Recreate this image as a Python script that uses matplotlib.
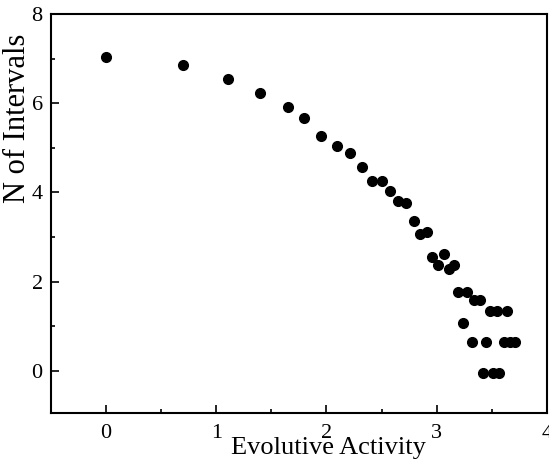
import matplotlib
matplotlib.use("Agg")
import matplotlib.pyplot as plt
from matplotlib.ticker import MultipleLocator

# datos
activity = [0.00, 0.70, 1.11, 1.40, 1.65, 1.80, 1.95, 2.10, 2.21, 2.32,
            2.41, 2.50, 2.58, 2.65, 2.72, 2.79, 2.85, 2.91, 2.96, 3.01,
            3.07, 3.11, 3.16, 3.19, 3.28, 3.34, 3.39, 3.48, 3.55, 3.64,
            3.24, 3.32, 3.45, 3.61, 3.67, 3.71, 3.42, 3.51, 3.57]
intervals = [7.04, 6.86, 6.55, 6.23, 5.92, 5.67, 5.27, 5.04, 4.89, 4.57,
             4.25, 4.25, 4.03, 3.80, 3.76, 3.35, 3.07, 3.12, 2.55, 2.38,
             2.62, 2.28, 2.37, 1.76, 1.76, 1.58, 1.58, 1.34, 1.34, 1.34,
             1.06, 0.64, 0.64, 0.64, 0.64, 0.64, -0.04, -0.04, -0.04]

plt.rcParams['font.family'] = ['Liberation Serif', 'DejaVu Serif']

fig = plt.figure(figsize=(5.49, 4.71), dpi=100)
ax = fig.add_axes([0.093, 0.123, 0.903, 0.847])
ax.plot(activity, intervals, 'o', color='black', markersize=7)

ax.set_xlim(-0.5, 4.0)
ax.set_ylim(-0.95, 8.0)
ax.xaxis.set_major_locator(MultipleLocator(1))
ax.xaxis.set_minor_locator(MultipleLocator(0.5))
ax.yaxis.set_major_locator(MultipleLocator(2))
ax.yaxis.set_minor_locator(MultipleLocator(1))
ax.tick_params(which='both', direction='in', labelsize=16, width=1.2)
ax.tick_params(which='major', length=6)
ax.tick_params(axis='x', pad=8)
ax.tick_params(axis='y', pad=6)
ax.tick_params(which='minor', length=3)
for s in ax.spines.values():
    s.set_linewidth(1.5)

ax.set_xlabel('Evolutive Activity', fontsize=19)
ax.set_ylabel('N of Intervals', fontsize=22)
# las etiquetas no estan centradas en el original
ax.xaxis.set_label_coords(0.56, -0.06)
ax.yaxis.set_label_coords(-0.039, 0.739)

plt.savefig('out.png')
plt.close()
